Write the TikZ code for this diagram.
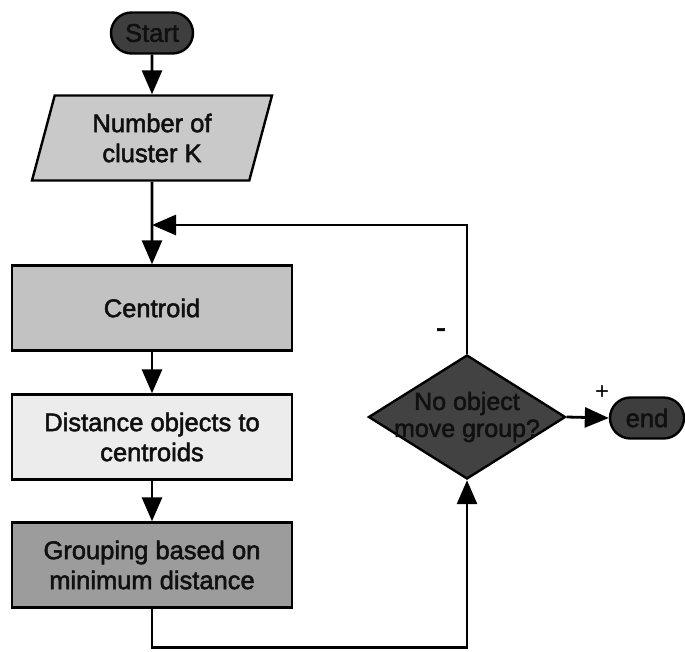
\documentclass[tikz,border=0pt]{standalone}
\usepackage{fontspec}
\setmainfont{Liberation Sans}
\newfontfamily\heavyfont{Liberation Sans}[UprightFeatures={FakeBold=2}]
\usetikzlibrary{shapes.geometric,shapes.misc,arrows.meta}
\definecolor{pillgray}{HTML}{3E3E3E}
\definecolor{paragray}{HTML}{C9C9C9}
\definecolor{centgray}{HTML}{C2C2C2}
\definecolor{distgray}{HTML}{ECECEC}
\definecolor{groupgray}{HTML}{9C9C9C}
\definecolor{decgray}{HTML}{424242}
\definecolor{txtdark}{HTML}{101010}
\tikzset{
  base/.style={draw=black, line width=2.4pt, inner sep=0pt, align=center,
    font=\heavyfont\fontsize{25.5}{30}\selectfont, text=txtdark},
  pill/.style={base, rounded rectangle, fill=pillgray, minimum height=41pt},
  iobox/.style={base, trapezium, trapezium left angle=65, trapezium right angle=115,
    trapezium stretches body=true, fill=paragray, minimum width=240pt, minimum height=85pt},
  procbox/.style={base, rectangle, minimum width=280pt, minimum height=85pt},
  decision/.style={base, diamond, fill=decgray, minimum width=197pt, minimum height=124pt},
  dectext/.style={inner sep=0pt, align=center, font=\heavyfont\fontsize{25}{27}\selectfont, text=txtdark},
  conn/.style={line width=2.8pt, -{Triangle[length=24pt,width=20pt]}},
  sign/.style={inner sep=0pt, text=black}
}
\begin{document}
\begin{tikzpicture}[x=1pt,y=-1pt]
\useasboundingbox (0,0) rectangle (685,651);
\node[pill, minimum width=82pt] (start) at (152,33) {Start};
\node[iobox] (param) at (152,138) {Number of\\cluster K};
\node[procbox, fill=centgray] (cent) at (152,308) {Centroid};
\node[procbox, fill=distgray] (dist) at (152,437) {Distance objects to\\centroids};
\node[procbox, fill=groupgray] (group) at (152,565) {Grouping based on\\minimum distance};
\node[decision] (dec) at (467,417) {};
\node[dectext] (dect) at (dec.center) {No object\\move group?};
\node[pill, minimum width=74pt] (end) at (647,418) {end};
\coordinate (join) at (152,225);
\node[sign, font=\heavyfont\fontsize{30}{30}\selectfont] (minus) at (441,333) {-};
\node[sign, font=\fontsize{24}{24}\selectfont] (plus) at (602,393) {+};
\draw[conn] (start) -- (param);
\draw[conn] (param) -- (cent);
\draw[conn] (cent) -- (dist);
\draw[conn] (dist) -- (group);
\draw[conn] (dec.north) |- (join);
\draw[conn] (group.south) -- ++(0,39) -| (dec.south);
\draw[conn] (dec.east) -- (end.west);
\end{tikzpicture}
\end{document}
